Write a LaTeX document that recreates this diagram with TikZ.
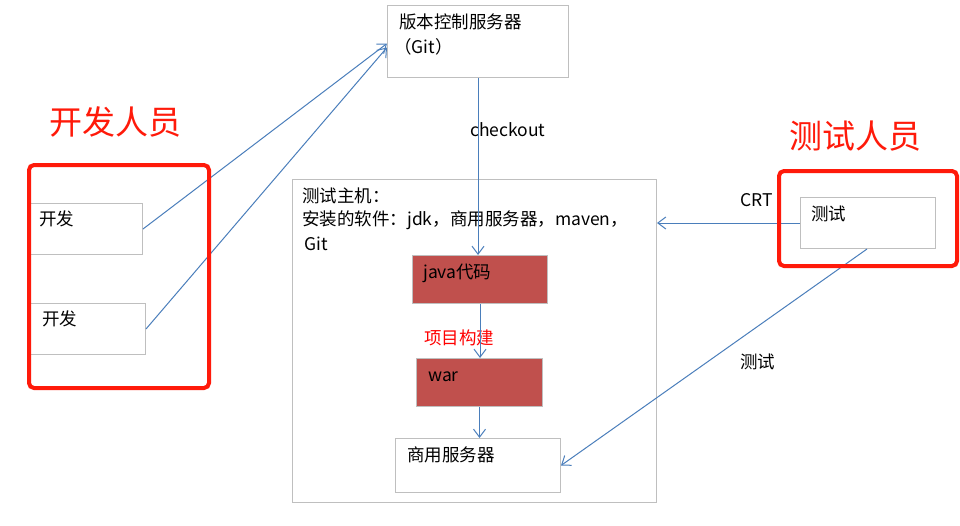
\documentclass[tikz,border=0pt]{standalone}
\usepackage{fontspec}
\setmainfont{Noto Sans CJK SC}
\usetikzlibrary{arrows.meta}
\definecolor{lineblue}{HTML}{4A7EBB}
\definecolor{boxgray}{HTML}{BFBFBF}
\definecolor{brick}{HTML}{C0504D}
\definecolor{hired}{HTML}{FF1A0A}
\begin{document}
\begin{tikzpicture}[x=1pt,y=-1pt,
  box/.style={draw=boxgray,line width=1pt,anchor=north west,inner sep=0pt,minimum width=#1},
  brickbox/.style={box=#1,fill=brick},
  group/.style={draw=hired,line width=4pt,rounded corners=5pt,anchor=north west,inner sep=0pt,minimum width=#1},
  txt/.style={anchor=west,inner sep=0pt,font=\fontsize{17.5}{21}\selectfont},
  head/.style={anchor=west,inner sep=0pt,text=hired,font=\fontsize{33}{37}\selectfont},
  arr/.style={draw=lineblue,line width=1pt,-{Straight Barb[length=8pt,width=12pt]}}]
\useasboundingbox (0,0) rectangle (960,525);
\fill[white] (0,0) rectangle (960,525);

% boxes
\node[box=181pt,minimum height=72pt] (git) at (387,5) {};
\node[box=364pt,minimum height=323pt] (host) at (292,179) {};
\node[brickbox=135pt,minimum height=48pt] (java) at (412,255) {};
\node[brickbox=126pt,minimum height=48pt] (war) at (416,358) {};
\node[box=165pt,minimum height=54pt] (server) at (395,438) {};
\node[box=113pt,minimum height=51pt] (dev1) at (29,203) {};
\node[box=115pt,minimum height=51pt] (dev2) at (30,303) {};
\node[box=135pt,minimum height=51pt] (tester) at (800,197) {};

% texts
\node[txt] (tgit1) at (399,22) {版本控制服务器};
\node[txt] (tgit2) at (394,47) {（Git）};
\node[txt] (thost1) at (302,196) {测试主机：};
\node[txt] (thost2) at (302,220) {安装的软件：jdk，商用服务器，maven，};
\node[txt] (thost3) at (304,244) {Git};
\node[txt] (tjava) at (423,273) {java代码};
\node[txt] (twar) at (428,377) {war};
\node[txt] (tserver) at (407,455) {商用服务器};
\node[txt] (tdev1) at (39,219) {开发};
\node[txt] (tdev2) at (42,319) {开发};
\node[txt] (ttester) at (811,214) {测试};
\node[txt,text=red] (tbuild) at (424,338) {项目构建};
\node[txt] (tcheckout) at (470,130) {checkout};
\node[txt] (tcrt) at (740,200) {CRT};
\node[txt] (ttest) at (740,362) {测试};
\node[head] (hdev) at (49,122) {开发人员};
\node[head] (htest) at (789,136) {测试人员};

% connectors
\draw[arr] (git.south) -- (git.south |- java.north);
\draw[arr] (java.south) -- (java.south |- war.north);
\draw[arr] (war.south) -- (war.south |- server.north);
\draw[arr] (dev1.east) -- ([yshift=-2pt]git.west);
\draw[arr] (dev2.east) -- ([yshift=-6pt]git.west);
\draw[arr] (tester.west) -- (tester.west -| host.east);
\draw[arr] ([xshift=-1pt]tester.south) -- (server.east);

% red groups
\node[group=180pt,minimum height=223pt] (devgroup) at (27,163) {};
\node[group=178pt,minimum height=95pt] (testgroup) at (777,169) {};
\end{tikzpicture}
\end{document}
